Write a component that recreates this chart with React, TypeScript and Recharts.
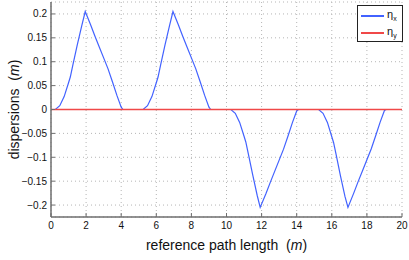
import { LineChart, Line, XAxis, YAxis, CartesianGrid } from "recharts";

const pathLength = [
  0, 0.25, 0.5, 0.75, 1.0, 1.1, 1.25, 1.5, 1.75, 1.95, 2.25, 2.5, 2.75, 3.0, 3.25, 3.5, 3.75, 4.0, 4.1,
  5.25, 5.5, 5.75, 6.0, 6.1, 6.25, 6.5, 6.75, 6.95, 7.25, 7.5, 7.75, 8.0, 8.25, 8.5, 8.75, 9.0, 9.1,
  10.25, 10.5, 10.75, 11.0, 11.1, 11.25, 11.5, 11.75, 11.92, 12.25, 12.5, 12.75, 13.0, 13.25, 13.5, 13.75, 14.0, 14.1,
  15.25, 15.5, 15.75, 16.0, 16.1, 16.25, 16.5, 16.75, 16.92, 17.25, 17.5, 17.75, 18.0, 18.25, 18.5, 18.75, 19.0, 19.1,
  20,
];

const etaX = [
  0, 0, 0.008, 0.027, 0.056, 0.068, 0.094, 0.136, 0.175, 0.205, 0.178, 0.154, 0.131, 0.108, 0.085, 0.058, 0.03, 0.005, 0,
  0, 0.008, 0.027, 0.056, 0.068, 0.094, 0.136, 0.175, 0.205, 0.178, 0.154, 0.131, 0.108, 0.085, 0.058, 0.03, 0.005, 0,
  0, -0.008, -0.027, -0.056, -0.068, -0.094, -0.138, -0.18, -0.205, -0.176, -0.152, -0.129, -0.106, -0.083, -0.056, -0.028, -0.003, 0,
  0, -0.008, -0.027, -0.057, -0.069, -0.095, -0.14, -0.182, -0.205, -0.175, -0.151, -0.128, -0.105, -0.082, -0.055, -0.027, -0.002, 0,
  0,
];

const etaY = pathLength.map(() => 0);

const xTicks = [0, 2, 4, 6, 8, 10, 12, 14, 16, 18, 20];
const yTicks = [-0.2, -0.15, -0.1, -0.05, 0, 0.05, 0.1, 0.15, 0.2];

const seriesNames = ["x", "y"];
const seriesColors = ["#4262ff", "#f04848"];

const data = pathLength.map((x, i) => ({ x, etaX: etaX[i], etaY: etaY[i] }));

const FONT = "'Liberation Sans', Arial, sans-serif";
const FRAME = "#6e6e6e";

const formatY = (v: number) => (v < 0 ? "\u2212" + String(Math.abs(v)) : String(v));

const XLabel = ({ viewBox }: any) => {
  const cx = viewBox.x + viewBox.width / 2;
  return (
    <text x={cx} y={250} textAnchor="middle" fontSize={14} fontFamily={FONT} fill="#111">
      reference path length{"\u00a0\u00a0"}(<tspan fontStyle="italic">m</tspan>)
    </text>
  );
};

const YLabel = ({ viewBox }: any) => {
  const cy = viewBox.y + viewBox.height / 2;
  return (
    <text
      x={19}
      y={cy}
      textAnchor="middle"
      fontSize={14}
      fontFamily={FONT}
      fill="#111"
      transform={`rotate(-90, 19, ${cy})`}
    >
      dispersions{"\u00a0\u00a0"}(<tspan fontStyle="italic">m</tspan>)
    </text>
  );
};

// legend drawn as an overlay so it takes no room from the plot
const LegendBox = () => (
  <div
    style={{
      position: "absolute",
      left: 357,
      top: 5,
      width: 44,
      height: 35,
      border: "1px solid #222",
      background: "#fff",
      fontFamily: FONT,
    }}
  >
    {seriesNames.map((n, i) => (
      <div key={n} style={{ position: "absolute", left: 3, top: 4 + i * 17, height: 12, width: 40 }}>
        <div
          style={{
            position: "absolute",
            left: 0,
            top: 5,
            width: 23,
            height: 1.5,
            background: seriesColors[i],
          }}
        />
        <span style={{ position: "absolute", left: 26, top: -2, fontSize: 11, color: "#111" }}>
          η<sub style={{ fontSize: 7, verticalAlign: -3 }}>{n}</sub>
        </span>
      </div>
    ))}
  </div>
);

export default function App() {
  return (
    <div style={{ position: "fixed", left: 0, top: 0, width: 409, height: 260, background: "#fff" }}>
      <LineChart width={409} height={260} data={data} margin={{ top: 2, right: 7, left: 0, bottom: 0 }}>
        <CartesianGrid stroke="#b5b5b5" strokeDasharray="1 3" />
        <XAxis
          dataKey="x"
          type="number"
          domain={[0, 20]}
          ticks={xTicks}
          height={43}
          tickSize={-4}
          tickMargin={9}
          axisLine={{ stroke: FRAME, strokeWidth: 1.5 }}
          tickLine={{ stroke: FRAME }}
          tick={{ fontSize: 10, fill: "#111", fontFamily: FONT }}
          label={<XLabel />}
          allowDataOverflow
        />
        <XAxis
          xAxisId="top"
          orientation="top"
          dataKey="x"
          type="number"
          domain={[0, 20]}
          ticks={xTicks}
          height={0}
          tickSize={-4}
          axisLine={{ stroke: FRAME, strokeWidth: 1.5 }}
          tickLine={{ stroke: FRAME }}
          tickFormatter={() => ""}
        />
        <YAxis
          type="number"
          domain={[-0.225, 0.225]}
          ticks={yTicks}
          width={51}
          tickSize={-4}
          tickMargin={8}
          axisLine={{ stroke: FRAME, strokeWidth: 1.5 }}
          tickLine={{ stroke: FRAME }}
          tickFormatter={formatY}
          tick={{ fontSize: 10, fill: "#111", fontFamily: FONT }}
          label={<YLabel />}
          allowDataOverflow
        />
        <YAxis
          yAxisId="right"
          orientation="right"
          type="number"
          domain={[-0.225, 0.225]}
          ticks={yTicks}
          width={0}
          tickSize={-4}
          axisLine={{ stroke: FRAME, strokeWidth: 1.5 }}
          tickLine={{ stroke: FRAME }}
          tickFormatter={() => ""}
        />
        <Line
          dataKey="etaX"
          type="linear"
          stroke={seriesColors[0]}
          strokeWidth={1.2}
          dot={false}
          isAnimationActive={false}
        />
        <Line
          dataKey="etaY"
          type="linear"
          stroke={seriesColors[1]}
          strokeWidth={1.5}
          dot={false}
          isAnimationActive={false}
        />
      </LineChart>
      <LegendBox />
    </div>
  );
}
